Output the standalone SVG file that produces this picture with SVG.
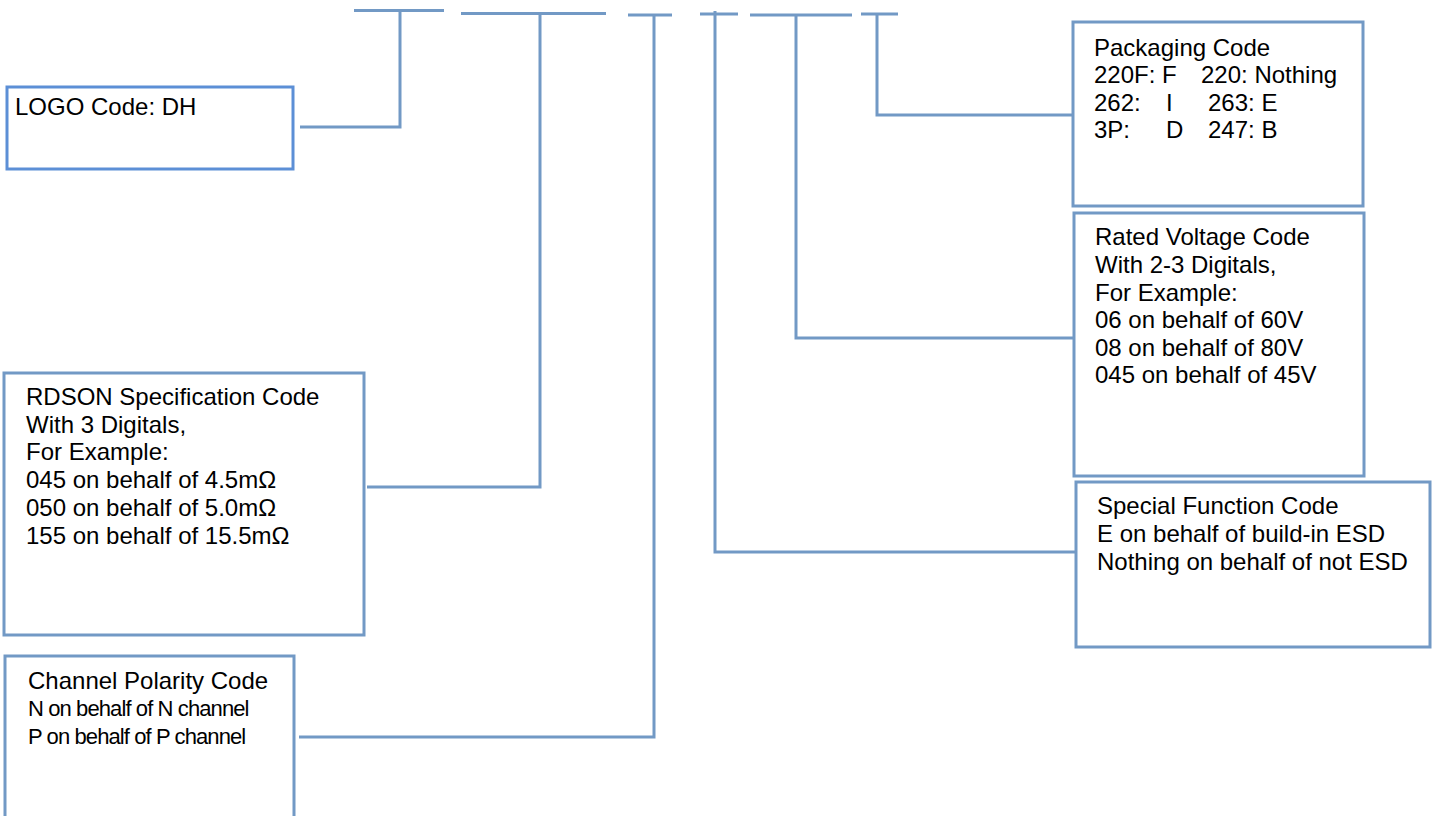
<svg xmlns="http://www.w3.org/2000/svg" width="1436" height="816" viewBox="0 0 1436 816">
<style>
.box{fill:#ffffff;stroke:#7299C5;stroke-width:3}
.logo{fill:#ffffff;stroke:#5C8FD6;stroke-width:3}
.t{font-family:"Liberation Sans",Arial,sans-serif;font-size:24px;fill:#000000}
.c{font-family:"Liberation Sans",Arial,sans-serif;font-size:22px;fill:#000000;letter-spacing:-0.9px}
.ln{fill:none;stroke:#7299C5;stroke-width:3}
</style>
<rect width="1436" height="816" fill="#ffffff"/>
<g id="connectors">
<path class="ln" d="M354 10.5H444M400 10.5V127H300"/>
<path class="ln" d="M461 13.5H606M540 13.5V487H367"/>
<path class="ln" d="M628 15H672M654 15V737H299"/>
<path class="ln" d="M700 14H738M715 11V552H1076"/>
<path class="ln" d="M750 15H852M796 15V338H1073"/>
<path class="ln" d="M861 14H898M877 14V115H1073"/>
</g>
<g id="logo">
<rect class="logo" x="7" y="87" width="286" height="82"/>
<text class="t" x="15" y="115">LOGO Code: DH</text>
</g>
<g id="rdson">
<rect class="box" x="4" y="373" width="360" height="262"/>
<text class="t" x="26" y="405">RDSON Specification Code</text>
<text class="t" x="26" y="433">With 3 Digitals,</text>
<text class="t" x="26" y="460">For Example:</text>
<text class="t" x="26" y="488">045 on behalf of 4.5mΩ</text>
<text class="t" x="26" y="516">050 on behalf of 5.0mΩ</text>
<text class="t" x="26" y="544">155 on behalf of 15.5mΩ</text>
</g>
<g id="channel">
<path class="box" d="M5 830V656H294V830"/>
<text class="t" x="28" y="689">Channel Polarity Code</text>
<text class="c" x="28" y="716">N on behalf of N channel</text>
<text class="c" x="28" y="744">P on behalf of P channel</text>
</g>
<g id="packaging">
<rect class="box" x="1073" y="22" width="290" height="184"/>
<text class="t" x="1094" y="56">Packaging Code</text>
<text class="t" y="83"><tspan x="1094">220F: F</tspan><tspan x="1201">220: Nothing</tspan></text>
<text class="t" y="111"><tspan x="1094">262:</tspan><tspan x="1166">I</tspan><tspan x="1208">263: E</tspan></text>
<text class="t" y="138"><tspan x="1094">3P:</tspan><tspan x="1166">D</tspan><tspan x="1208">247: B</tspan></text>
</g>
<g id="rated">
<rect class="box" x="1074" y="213" width="290" height="263"/>
<text class="t" x="1095" y="245">Rated Voltage Code</text>
<text class="t" x="1095" y="273">With 2-3 Digitals,</text>
<text class="t" x="1095" y="301">For Example:</text>
<text class="t" x="1095" y="328">06 on behalf of 60V</text>
<text class="t" x="1095" y="356">08 on behalf of 80V</text>
<text class="t" x="1095" y="383">045 on behalf of 45V</text>
</g>
<g id="special">
<rect class="box" x="1076" y="482" width="354" height="165"/>
<text class="t" x="1097" y="514">Special Function Code</text>
<text class="t" x="1097" y="542">E on behalf of build-in ESD</text>
<text class="t" x="1097" y="570">Nothing on behalf of not ESD</text>
</g>
</svg>
